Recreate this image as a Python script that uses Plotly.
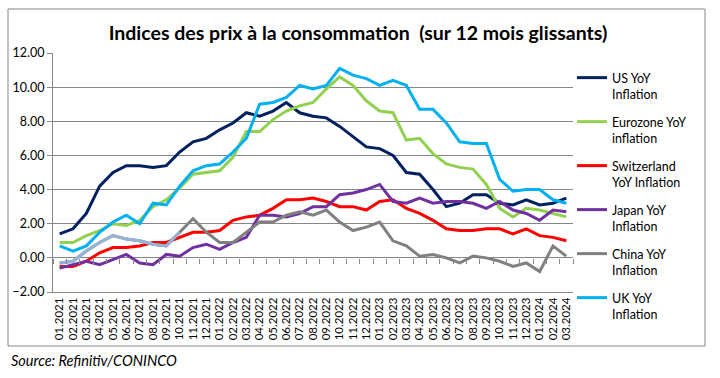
import plotly.graph_objects as go

months = ["01.2021","02.2021","03.2021","04.2021","05.2021","06.2021","07.2021","08.2021","09.2021","10.2021","11.2021","12.2021",
          "01.2022","02.2022","03.2022","04.2022","05.2022","06.2022","07.2022","08.2022","09.2022","10.2022","11.2022","12.2022",
          "01.2023","02.2023","03.2023","04.2023","05.2023","06.2023","07.2023","08.2023","09.2023","10.2023","11.2023","12.2023",
          "01.2024","02.2024","03.2024"]

us = [1.4,1.7,2.6,4.2,5.0,5.4,5.4,5.3,5.4,6.2,6.8,7.0,
      7.5,7.9,8.5,8.3,8.6,9.1,8.5,8.3,8.2,7.7,7.1,6.5,
      6.4,6.0,5.0,4.9,4.0,3.0,3.2,3.7,3.7,3.2,3.1,3.4,
      3.1,3.2,3.5]
eurozone = [0.9,0.9,1.3,1.6,2.0,1.9,2.2,3.0,3.4,4.1,4.9,5.0,
            5.1,5.9,7.4,7.4,8.1,8.6,8.9,9.1,9.9,10.6,10.1,9.2,
            8.6,8.5,6.9,7.0,6.1,5.5,5.3,5.2,4.3,2.9,2.4,2.9,
            2.8,2.6,2.4]
switzerland = [-0.5,-0.5,-0.2,0.3,0.6,0.6,0.7,0.9,0.9,1.2,1.5,1.5,
               1.6,2.2,2.4,2.5,2.9,3.4,3.4,3.5,3.3,3.0,3.0,2.8,
               3.3,3.4,2.9,2.6,2.2,1.7,1.6,1.6,1.7,1.7,1.4,1.7,
               1.3,1.2,1.0]
japan = [-0.6,-0.4,-0.2,-0.4,-0.1,0.2,-0.3,-0.4,0.2,0.1,0.6,0.8,
         0.5,0.9,1.2,2.5,2.5,2.4,2.6,3.0,3.0,3.7,3.8,4.0,
         4.3,3.3,3.2,3.5,3.2,3.3,3.3,3.2,2.9,3.3,2.8,2.6,
         2.2,2.8,2.7]
china = [-0.3,-0.2,0.4,0.9,1.3,1.1,1.0,0.8,0.7,1.5,2.3,1.5,
         0.9,0.9,1.5,2.1,2.1,2.5,2.7,2.5,2.8,2.1,1.6,1.8,
         2.1,1.0,0.7,0.1,0.2,0.0,-0.3,0.1,0.0,-0.2,-0.5,-0.3,
         -0.8,0.7,0.1]
uk = [0.7,0.4,0.7,1.5,2.1,2.5,2.0,3.2,3.1,4.2,5.1,5.4,
      5.5,6.2,7.0,9.0,9.1,9.4,10.1,9.9,10.1,11.1,10.7,10.5,
      10.1,10.4,10.1,8.7,8.7,7.9,6.8,6.7,6.7,4.6,3.9,4.0,
      4.0,3.4,3.2]

series = [
    ("US YoY<br>Inflation", us, "#002060"),
    ("Eurozone YoY<br>inflation", eurozone, "#92D050"),
    ("Switzerland<br>YoY Inflation", switzerland, "#FF0000"),
    ("Japan YoY<br>Inflation", japan, "#7030A0"),
    ("China YoY<br>Inflation", china, "#808080"),
    ("UK YoY<br>Inflation", uk, "#00B0F0"),
]

FONT = "Lato"
fig = go.Figure()
for i, (name, vals, col) in enumerate(series):
    fig.add_trace(go.Scatter(x=months, y=vals, name=name, mode="lines",
                             line=dict(color=col, width=3), legendgroup=f"g{i}"))
    if i == 4:
        # light segment at the start of the China series, as in the source chart
        fig.add_trace(go.Scatter(x=months[:10], y=china[:10], mode="lines", showlegend=False,
                                 line=dict(color="#95B3D7", width=3), legendgroup=f"g{i}",
                                 hoverinfo="skip"))

# helper trace to carry the secondary x-axis (ticks along the zero line)
fig.add_trace(go.Scatter(x=months, y=[None]*len(months), xaxis="x2", showlegend=False,
                         mode="lines", hoverinfo="skip"))

L, R, T, B = 53, 147, 53, 86
W, H = 720, 378
pw, ph = W - L - R, H - T - B

def px_x(p):
    return (p - L) / pw

def px_y(p):
    return (H - B - p) / ph

ymin, ymax = -2, 12
fig.update_layout(
    width=W, height=H,
    margin=dict(l=L, r=R, t=T, b=B),
    paper_bgcolor="white", plot_bgcolor="white",
    font=dict(family=FONT, size=12, color="black"),
    title=dict(text="<b>Indices des prix à la consommation  (sur 12 mois glissants)</b>",
               xref="container", x=358 / W, xanchor="center",
               yref="container", y=1 - 33 / H, yanchor="middle",
               font=dict(family=FONT, size=19.5, color="black")),
    xaxis=dict(type="category", showgrid=False, showline=True, linecolor="#868686", linewidth=1,
               ticks="", tickangle=-90, tickfont=dict(family=FONT, size=11.5), zeroline=False,
               tickmode="linear", dtick=1, range=[-0.5, len(months) - 0.5]),
    xaxis2=dict(type="category", overlaying="x", matches="x", anchor="free",
                position=(0 - ymin) / (ymax - ymin), showticklabels=False, showline=False,
                ticks="outside", tickson="boundaries", ticklen=5, tickcolor="#868686",
                tickmode="linear", dtick=1, showgrid=False, zeroline=False),
    yaxis=dict(range=[ymin, ymax], dtick=2, tickformat=".2f", showgrid=True, gridcolor="#868686",
               gridwidth=1, showline=True, linecolor="#868686", ticks="outside", ticklen=5,
               tickcolor="#868686", zeroline=True, zerolinecolor="#868686", zerolinewidth=1,
               tickfont=dict(family=FONT, size=12.5)),
    legend=dict(x=px_x(572), xanchor="left", y=px_y(63), yanchor="top", valign="top",
                font=dict(family=FONT, size=12.5), tracegroupgap=8.5, bgcolor="rgba(0,0,0,0)",
                maxheight=400),
    showlegend=True,
)

fig.add_shape(type="rect", xref="paper", yref="paper",
              x0=px_x(8), x1=px_x(705), y0=px_y(346), y1=px_y(9),
              line=dict(color="#868686", width=1), layer="below")

fig.add_annotation(text="<i>Source: Refinitiv/CONINCO</i>", xref="paper", yref="paper",
                   x=px_x(9), y=px_y(360), xanchor="left", yanchor="middle", showarrow=False,
                   font=dict(family=FONT, size=14.5, color="black"))

fig.write_html("out.html", config={"displayModeBar": False},
               post_script="document.body.style.margin='0';document.body.style.padding='0';")
